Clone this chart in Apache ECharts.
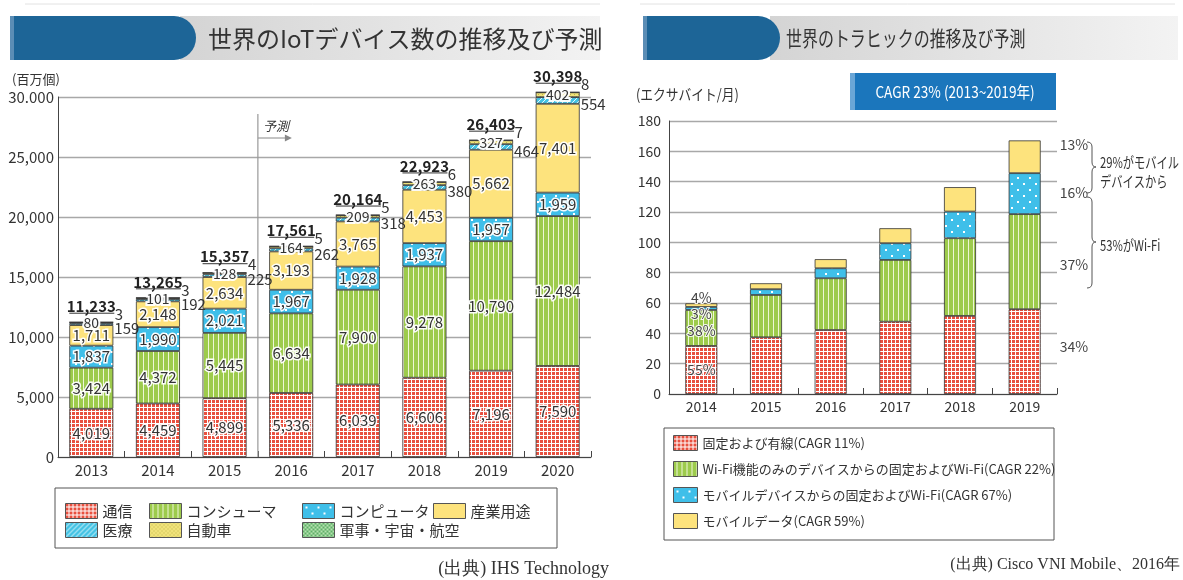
<!DOCTYPE html>
<html>
<head>
<meta charset="utf-8">
<script src="https://cdn.jsdelivr.net/npm/echarts@6/dist/echarts.min.js"></script>
<style>
html,body{margin:0;padding:0;background:#fff;}
#main{width:1183px;height:580px;}
</style>
</head>
<body>
<div id="main"></div>
<script>
// 左: 世界のIoTデバイス数 (百万個)
var years = ['2013','2014','2015','2016','2017','2018','2019','2020'];
var tsushin   = [4019, 4459, 4899, 5336, 6039, 6606, 7196, 7590];
var consumer  = [3424, 4372, 5445, 6634, 7900, 9278, 10790, 12484];
var computer  = [1837, 1990, 2021, 1967, 1928, 1937, 1957, 1959];
var sangyo    = [1711, 2148, 2634, 3193, 3765, 4453, 5662, 7401];
var iryo      = [159, 192, 225, 262, 318, 380, 464, 554];
var jidosha   = [80, 101, 128, 164, 209, 263, 327, 402];
var gunji     = [3, 3, 4, 5, 5, 6, 7, 8];
var totals    = [11233, 13265, 15357, 17561, 20164, 22923, 26403, 30398];
var iotTicks  = ['0','5,000','10,000','15,000','20,000','25,000','30.000'];

// 右: 世界のトラヒック (エクサバイト/月)
var tYears     = ['2014','2015','2016','2017','2018','2019'];
var fixedWired = [31.7, 37.4, 42.2, 47.7, 51.5, 55.9];
var wifiOnly   = [23.7, 27.9, 34.1, 40.7, 51.2, 62.7];
var mobileWifi = [2.0, 3.8, 6.6, 11.0, 17.6, 27.0];
var mobileData = [2.4, 3.9, 6.0, 9.9, 16.1, 21.6];
var share2014  = ['55%','38%','3%','4%'];
var share2019  = ['34%','37%','16%','13%'];

var JP = '"Noto Sans CJK JP","Noto Sans",sans-serif';
var SERIF = '"Liberation Serif","DejaVu Serif",serif';

function pat(w, h, bg, draw) {
	var c = document.createElement('canvas');
	c.width = w; c.height = h;
	var g = c.getContext('2d');
	g.fillStyle = bg; g.fillRect(0, 0, w, h);
	if (draw) draw(g);
	return {image: c, repeat: 'repeat'};
}
var cRed = pat(4, 4, '#ffffff', function (g) { g.fillStyle = '#e8503f'; g.fillRect(0, 0, 3, 3); });
var cGreen = pat(5, 2, '#9dcb4c', function (g) { g.fillStyle = '#eef6d6'; g.fillRect(3, 0, 1, 2); });
var cCyan = pat(12, 12, '#3fbfe9', function (g) { g.fillStyle = '#ffffff'; g.fillRect(3, 3, 2, 2); g.fillRect(9, 9, 2, 2); });
var cYellow = '#fde37d';
var cIryo = pat(5, 5, '#45c3e4', function (g) {
	g.strokeStyle = '#e6f8fc'; g.lineWidth = 1;
	g.beginPath(); g.moveTo(0, 5); g.lineTo(5, 0); g.stroke();
});
var cJidosha = pat(4, 4, '#f0e27a', function (g) { g.fillStyle = '#bdb44a'; g.fillRect(0, 0, 1, 1); g.fillRect(2, 2, 1, 1); });
var cGunji = pat(4, 4, '#b6e2b0', function (g) { g.fillStyle = '#5faf68'; g.fillRect(0, 0, 2, 2); g.fillRect(2, 2, 2, 2); });

function fmt(v) { return Number(v).toLocaleString('en-US'); }

var inLabel = {
	show: true, position: 'inside', fontSize: 15, fontFamily: JP, color: '#333',
	textBorderColor: 'rgba(255,255,255,0.95)', textBorderWidth: 3,
	formatter: function (p) { return fmt(p.value); }
};
function iotBar(name, data, color, label) {
	return {
		name: name, type: 'bar', stack: 'iot', data: data, barWidth: 44, clip: false,
		xAxisIndex: 0, yAxisIndex: 0,
		itemStyle: {color: color, borderColor: '#333', borderWidth: 0.8},
		label: label, emphasis: {disabled: true}
	};
}
function trafficBar(name, data, color, k) {
	var d = data.map(function (v, i) {
		if (i === 0) {
			var off = [[0, 0], [0, 3], [0, 5], [0, -7]][k];
			return {value: v, label: {show: true, position: 'inside', offset: off, formatter: share2014[k]}};
		}
		if (i === data.length - 1) {
			var off2 = [[0, -5], [0, 3], [0, -1], [0, -12]][k];
			return {value: v, label: {show: true, position: 'right', distance: 19, offset: off2, formatter: share2019[k],
				textBorderWidth: 0}};
		}
		return v;
	});
	return {
		name: name, type: 'bar', stack: 'traffic', data: d, barWidth: 32,
		xAxisIndex: 1, yAxisIndex: 1,
		itemStyle: {color: color, borderColor: '#333', borderWidth: 0.8},
		label: {show: false, fontSize: 14, fontFamily: JP, color: '#444',
			textBorderColor: 'rgba(255,255,255,0.9)', textBorderWidth: 2},
		emphasis: {disabled: true}
	};
}
// 波括弧 (右向き)
function brace(id, x, y1, ym, y2) {
	var s = {fill: 'none', stroke: '#555', lineWidth: 1};
	return [
		{id: id + 'a', type: 'bezierCurve', shape: {x1: x, y1: y1, x2: x + 5, y2: y1 + 5, cpx1: x + 5, cpy1: y1}, style: s},
		{id: id + 'b', type: 'line', shape: {x1: x + 5, y1: y1 + 5, x2: x + 5, y2: ym - 5}, style: s},
		{id: id + 'c', type: 'bezierCurve', shape: {x1: x + 5, y1: ym - 5, x2: x + 9, y2: ym, cpx1: x + 5, cpy1: ym}, style: s},
		{id: id + 'd', type: 'bezierCurve', shape: {x1: x + 9, y1: ym, x2: x + 5, y2: ym + 5, cpx1: x + 5, cpy1: ym}, style: s},
		{id: id + 'e', type: 'line', shape: {x1: x + 5, y1: ym + 5, x2: x + 5, y2: y2 - 5}, style: s},
		{id: id + 'f', type: 'bezierCurve', shape: {x1: x + 5, y1: y2 - 5, x2: x, y2: y2, cpx1: x + 5, cpy1: y2}, style: s}
	];
}

var myChart = echarts.init(document.getElementById('main'), null, {renderer: 'canvas'});

var legendBase = {
	orient: 'vertical', icon: 'rect', itemWidth: 32, itemHeight: 15, itemGap: 3,
	selectedMode: false,
	textStyle: {fontSize: 15, fontFamily: JP, color: '#333'},
	itemStyle: {borderColor: '#555', borderWidth: 1}
};
function lg(opt) { return Object.assign({}, legendBase, opt); }

var grad = [{offset: 0, color: '#d4d4d4'}, {offset: 1, color: '#f3f3f3'}];

var option = {
	animation: false,
	backgroundColor: '#fff',
	grid: [
		{left: 58, top: 97, width: 533, height: 360},
		{left: 669, top: 121, width: 388, height: 273}
	],
	xAxis: [
		{type: 'category', data: years, gridIndex: 0,
			axisLine: {lineStyle: {color: '#444', width: 1}},
			axisTick: {show: true, inside: true, length: 6, lineStyle: {color: '#444'}},
			axisLabel: {fontSize: 15, fontFamily: JP, color: '#333', margin: 6}},
		{type: 'category', data: tYears, gridIndex: 1,
			axisLine: {lineStyle: {color: '#444', width: 1}},
			axisTick: {show: true, inside: true, length: 6, lineStyle: {color: '#444'}},
			axisLabel: {fontSize: 14, fontFamily: JP, color: '#333', margin: 6}}
	],
	yAxis: [
		{type: 'value', gridIndex: 0, min: 0, max: 30000, interval: 5000,
			axisLine: {show: true, lineStyle: {color: '#444'}},
			axisTick: {show: false},
			splitLine: {lineStyle: {color: '#a8a8a8', width: 1.3}},
			axisLabel: {fontSize: 15, fontFamily: JP, color: '#333', margin: 4,
				formatter: function (v) { return iotTicks[v / 5000]; }}},
		{type: 'value', gridIndex: 1, min: 0, max: 180, interval: 20,
			axisLine: {show: true, lineStyle: {color: '#444'}},
			axisTick: {show: false},
			splitLine: {lineStyle: {color: '#a8a8a8', width: 1.3}},
			axisLabel: {fontSize: 14, fontFamily: JP, color: '#333', margin: 8}}
	],
	legend: [
		lg({left: 60, top: 498, data: ['通信', '医療']}),
		lg({left: 144, top: 498, data: ['コンシューマ', '自動車']}),
		lg({left: 297, top: 498, data: ['コンピュータ', '軍事・宇宙・航空']}),
		lg({left: 428, top: 498, data: ['産業用途']}),
		lg({left: 668, top: 430, itemWidth: 24, itemHeight: 15, itemGap: 10,
			textStyle: {fontSize: 13, fontFamily: JP, color: '#333'},
			data: ['固定および有線(CAGR 11%)', 'Wi-Fi機能のみのデバイスからの固定およびWi-Fi(CAGR 22%)',
				'モバイルデバイスからの固定およびWi-Fi(CAGR 67%)', 'モバイルデータ(CAGR 59%)']})
	],
	series: [
		iotBar('通信', tsushin, cRed, inLabel),
		iotBar('コンシューマ', consumer, cGreen, inLabel),
		iotBar('コンピュータ', computer, cCyan, inLabel),
		iotBar('産業用途', sangyo, cYellow, inLabel),
		iotBar('医療', iryo, cIryo, Object.assign({}, inLabel, {position: 'right', distance: 1, offset: [0, 4], textBorderWidth: 0})),
		iotBar('自動車', jidosha, cJidosha, Object.assign({}, inLabel, {position: 'inside', fontSize: 14, textBorderWidth: 4})),
		iotBar('軍事・宇宙・航空', gunji, cGunji, Object.assign({}, inLabel, {position: 'right', distance: 1, offset: [0, -8], textBorderWidth: 0})),
		{
			name: '合計', type: 'custom', xAxisIndex: 0, yAxisIndex: 0,
			data: totals.map(function (v, i) { return [i, v]; }),
			renderItem: function (params, api) {
				var p = api.coord([api.value(0), api.value(1)]);
				return {
					type: 'group', children: [
						{type: 'line', shape: {x1: p[0] - 22, y1: p[1] - 9, x2: p[0] + 23, y2: p[1] - 9},
							style: {stroke: '#333', lineWidth: 1}},
						{type: 'text', x: p[0], y: p[1] - 16,
							style: {text: fmt(api.value(1)), align: 'center', verticalAlign: 'middle',
								font: 'bold 15px ' + JP, fill: '#222'}}
					]
				};
			}
		},
		trafficBar('固定および有線(CAGR 11%)', fixedWired, cRed, 0),
		trafficBar('Wi-Fi機能のみのデバイスからの固定およびWi-Fi(CAGR 22%)', wifiOnly, cGreen, 1),
		trafficBar('モバイルデバイスからの固定およびWi-Fi(CAGR 67%)', mobileWifi, cCyan, 2),
		trafficBar('モバイルデータ(CAGR 59%)', mobileData, cYellow, 3)
	],
	graphic: [
		{id: 'topline1', type: 'line', shape: {x1: 25, y1: 4, x2: 600, y2: 4}, style: {stroke: '#e2e2e2', lineWidth: 1}},
		{id: 'topline2', type: 'line', shape: {x1: 640, y1: 4, x2: 1175, y2: 4}, style: {stroke: '#e2e2e2', lineWidth: 1}},
		{id: 'band1', type: 'rect', shape: {x: 180, y: 16, width: 420, height: 44},
			style: {fill: new echarts.graphic.LinearGradient(0, 0, 1, 0, grad)}},
		{id: 'blue1', type: 'rect', shape: {x: 10, y: 16, width: 186, height: 44, r: [0, 22, 22, 0]}, style: {fill: '#1d6597'}},
		{id: 'blue1s', type: 'rect', shape: {x: 10, y: 16, width: 4, height: 44}, style: {fill: '#5b8db5'}},
		{id: 'title1', type: 'text', x: 208, y: 39,
			style: {text: '世界のIoTデバイス数の推移及び予測', font: '24px ' + JP, fill: '#333', verticalAlign: 'middle'}},
		{id: 'band2', type: 'rect', shape: {x: 770, y: 16, width: 408, height: 44},
			style: {fill: new echarts.graphic.LinearGradient(0, 0, 1, 0, grad)}},
		{id: 'blue2', type: 'rect', shape: {x: 643, y: 16, width: 137, height: 44, r: [0, 22, 22, 0]}, style: {fill: '#1d6597'}},
		{id: 'blue2s', type: 'rect', shape: {x: 643, y: 16, width: 4, height: 44}, style: {fill: '#5b8db5'}},
		{id: 'title2', type: 'text', x: 786, y: 38, scaleX: 0.76,
			style: {text: '世界のトラヒックの推移及び予測', font: '21px ' + JP, fill: '#333', verticalAlign: 'middle'}},
		{id: 'unit1', type: 'text', x: 12, y: 79,
			style: {text: '(百万個)', font: '13px ' + JP, fill: '#333', verticalAlign: 'middle'}},
		{id: 'unit2', type: 'text', x: 636, y: 94, scaleX: 0.85,
			style: {text: '(エクサバイト/月)', font: '15px ' + JP, fill: '#333', verticalAlign: 'middle'}},
		{id: 'cagr', type: 'rect', shape: {x: 850, y: 73, width: 206, height: 37}, style: {fill: '#1b76bc'}},
		{id: 'cagrs', type: 'rect', shape: {x: 850, y: 73, width: 5, height: 37}, style: {fill: '#6aa6d6'}},
		{id: 'cagrt', type: 'text', x: 955, y: 92, scaleX: 0.85,
			style: {text: 'CAGR 23% (2013~2019年)', font: '16px ' + JP, fill: '#fff', align: 'center', verticalAlign: 'middle'}},
		{id: 'lbox1', type: 'rect', shape: {x: 55, y: 488, width: 502, height: 60}, style: {fill: 'none', stroke: '#555', lineWidth: 1}},
		{id: 'lbox2', type: 'rect', shape: {x: 664, y: 428, width: 390, height: 112}, style: {fill: 'none', stroke: '#555', lineWidth: 1}},
		{id: 'src1', type: 'text', x: 609, y: 569,
			style: {text: '(出典) IHS Technology', font: '18px ' + SERIF, fill: '#333', align: 'right', verticalAlign: 'middle'}},
		{id: 'src2', type: 'text', x: 1180, y: 565,
			style: {text: '(出典) Cisco VNI Mobile、2016年', font: '16px ' + SERIF, fill: '#333', align: 'right', verticalAlign: 'middle'}},
		{id: 'note1', type: 'text', x: 1100, y: 162, scaleX: 0.75,
			style: {text: '29%がモバイル', font: '15px ' + JP, fill: '#333', verticalAlign: 'middle'}},
		{id: 'note2', type: 'text', x: 1100, y: 181, scaleX: 0.75,
			style: {text: 'デバイスから', font: '15px ' + JP, fill: '#333', verticalAlign: 'middle'}},
		{id: 'note3', type: 'text', x: 1100, y: 245, scaleX: 0.75,
			style: {text: '53%がWi-Fi', font: '15px ' + JP, fill: '#333', verticalAlign: 'middle'}}
	].concat(brace('br1', 1087, 142, 167, 193), brace('br2', 1087, 197, 242, 288))
};
myChart.setOption(option);

// 予測ライン (2015と2016の間)
var xa = myChart.convertToPixel({xAxisIndex: 0}, '2015');
var xb = myChart.convertToPixel({xAxisIndex: 0}, '2016');
var xm = (xa + xb) / 2;
var y0 = myChart.convertToPixel({yAxisIndex: 0}, 0);
myChart.setOption({
	graphic: [
		{id: 'fline', type: 'line', shape: {x1: xm, y1: 114, x2: xm, y2: y0}, style: {stroke: '#999', lineWidth: 1.2}, z: 1},
		{id: 'farrow', type: 'line', shape: {x1: xm, y1: 138, x2: xm + 32, y2: 138}, style: {stroke: '#888', lineWidth: 1}},
		{id: 'fhead', type: 'polygon', shape: {points: [[xm + 34, 138], [xm + 27, 134.5], [xm + 27, 141.5]]}, style: {fill: '#888'}},
		{id: 'ftext', type: 'text', x: xm + 5, y: 126,
			style: {text: '予測', font: 'italic 13px ' + JP, fill: '#333', verticalAlign: 'middle'}}
	]
});

window.onresize = function () {
	try {
		if (myChart) {
			myChart.resize();
		}
	} catch (e) {
	}
};
</script>
</body>
</html>
